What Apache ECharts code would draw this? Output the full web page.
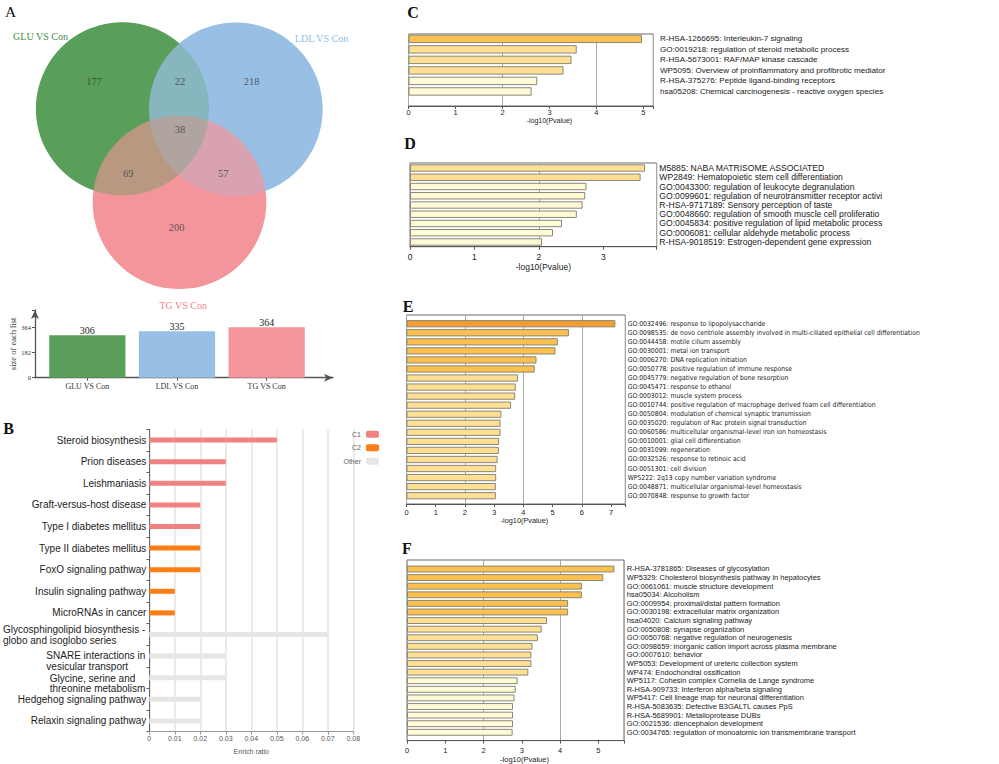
<!DOCTYPE html>
<html><head><meta charset="utf-8">
<script src="https://cdn.jsdelivr.net/npm/echarts@6/dist/echarts.min.js"></script>
<style>html,body{margin:0;padding:0;background:#fff}#c{width:999px;height:764px}</style>
</head><body><div id="c"></div>
<script>
// ================= DATA =================
const vennSets = ['GLU VS Con', 'LDL VS Con', 'TG VS Con'];
// region counts: GLU only, LDL only, TG only, GLU∩LDL, GLU∩TG, LDL∩TG, all three
const vennRegionCounts = [177, 218, 200, 22, 69, 57, 38];
const listSizes = [306, 335, 364];
const listTicks = [0, 182, 364];

const bCategories = [
  'Steroid biosynthesis', 'Prion diseases', 'Leishmaniasis', 'Graft-versus-host disease',
  'Type I diabetes mellitus', 'Type II diabetes mellitus', 'FoxO signaling pathway',
  'Insulin signaling pathway', 'MicroRNAs in cancer',
  'Glycosphingolipid biosynthesis -\nglobo and isoglobo series',
  'SNARE interactions in\nvesicular transport',
  'Glycine, serine and\nthreonine metabolism',
  'Hedgehog signaling pathway', 'Relaxin signaling pathway'
];
const bValues = [0.05, 0.03, 0.03, 0.02, 0.02, 0.02, 0.02, 0.01, 0.01, 0.07, 0.03, 0.03, 0.02, 0.02];
const bClusters = ['C1', 'C1', 'C1', 'C1', 'C1', 'C2', 'C2', 'C2', 'C2', 'Other', 'Other', 'Other', 'Other', 'Other'];
const bClusterNames = ['C1', 'C2', 'Other'];

const cTerms = [
  'R-HSA-1266695: Interleukin-7 signaling',
  'GO:0019218: regulation of steroid metabolic process',
  'R-HSA-5673001: RAF/MAP kinase cascade',
  'WP5095: Overview of proinflammatory and profibrotic mediators',
  'R-HSA-375276: Peptide ligand-binding receptors',
  'hsa05208: Chemical carcinogenesis - reactive oxygen species'
];
const cValues = [4.97, 3.58, 3.47, 3.30, 2.74, 2.62];

const dTerms = [
  'M5885: NABA MATRISOME ASSOCIATED',
  'WP2849: Hematopoietic stem cell differentiation',
  'GO:0043300: regulation of leukocyte degranulation',
  'GO:0099601: regulation of neurotransmitter receptor activity',
  'R-HSA-9717189: Sensory perception of taste',
  'GO:0048660: regulation of smooth muscle cell proliferation',
  'GO:0045834: positive regulation of lipid metabolic process',
  'GO:0006081: cellular aldehyde metabolic process',
  'R-HSA-9018519: Estrogen-dependent gene expression'
];
const dValues = [3.65, 3.58, 2.74, 2.72, 2.68, 2.59, 2.36, 2.22, 2.05];

const eTerms = [
  'GO:0032496: response to lipopolysaccharide',
  'GO:0098535: de novo centriole assembly involved in multi-ciliated epithelial cell differentiation',
  'GO:0044458: motile cilium assembly',
  'GO:0030001: metal ion transport',
  'GO:0006270: DNA replication initiation',
  'GO:0050778: positive regulation of immune response',
  'GO:0045779: negative regulation of bone resorption',
  'GO:0045471: response to ethanol',
  'GO:0003012: muscle system process',
  'GO:0010744: positive regulation of macrophage derived foam cell differentiation',
  'GO:0050804: modulation of chemical synaptic transmission',
  'GO:0035020: regulation of Rac protein signal transduction',
  'GO:0060586: multicellular organismal-level iron ion homeostasis',
  'GO:0010001: glial cell differentiation',
  'GO:0031099: regeneration',
  'GO:0032526: response to retinoic acid',
  'GO:0051301: cell division',
  'WP5222: 2q13 copy number variation syndrome',
  'GO:0048871: multicellular organismal-level homeostasis',
  'GO:0070848: response to growth factor'
];
const eValues = [7.15, 5.56, 5.18, 5.10, 4.45, 4.39, 3.82, 3.74, 3.72, 3.58, 3.25, 3.22, 3.22, 3.17, 3.16, 3.12, 3.07, 3.07, 3.06, 3.06];

const fTerms = [
  'R-HSA-3781865: Diseases of glycosylation',
  'WP5329: Cholesterol biosynthesis pathway in hepatocytes',
  'GO:0061061: muscle structure development',
  'hsa05034: Alcoholism',
  'GO:0009954: proximal/distal pattern formation',
  'GO:0030198: extracellular matrix organization',
  'hsa04020: Calcium signaling pathway',
  'GO:0050808: synapse organization',
  'GO:0050768: negative regulation of neurogenesis',
  'GO:0098659: inorganic cation import across plasma membrane',
  'GO:0007610: behavior',
  'WP5053: Development of ureteric collection system',
  'WP474: Endochondral ossification',
  'WP5117: Cohesin complex Cornelia de Lange syndrome',
  'R-HSA-909733: Interferon alpha/beta signaling',
  'WP5417: Cell lineage map for neuronal differentiation',
  'R-HSA-5083635: Defective B3GALTL causes PpS',
  'R-HSA-5689901: Metalloprotease DUBs',
  'GO:0021536: diencephalon development',
  'GO:0034765: regulation of monoatomic ion transmembrane transport'
];
const fValues = [5.42, 5.13, 4.57, 4.57, 4.21, 4.21, 3.66, 3.52, 3.42, 3.28, 3.25, 3.25, 3.17, 2.89, 2.84, 2.81, 2.77, 2.77, 2.77, 2.76];

// ================= LAYOUT / STYLE =================
const SERIF = '"Liberation Serif","Times New Roman",serif';
const SANS = '"Liberation Sans",Arial,sans-serif';
const vennColors = ['#5a9e5a', '#98bfe4', '#f4959b'];
const vennLabelColors = ['#3f8f3f', '#90bce6', '#f0868c'];
const vennGeom = [[122.5, 108.8, 86.6], [235.8, 109.3, 86.8], [179.5, 202.3, 86.8]];
const vennTint = [[0, 0.38], [1, 0.3]];
const vennLabelPos = [[94, 81.3], [251.7, 81.3], [176.7, 227.3], [180, 81.3], [128.3, 173.3], [223.3, 173.3], [180, 129]];
const vennSetLabelPos = [[40.5, 36.7], [321.5, 38.3], [183.2, 305]];
const bColors = { C1: '#f08282', C2: '#fd7e14', Other: '#e6e6e6' };
const bLabelShift = { 10: 4.5, 11: 5.5 };

function metascapeColor(v) {
  return v > 6 ? '#f69d31' : v > 4 ? '#fcc04e' : v > 3 ? '#fedf93' : '#fffbd7';
}

const mctx = document.createElement('canvas').getContext('2d');
function textW(t, size, fam) { mctx.font = size + 'px ' + fam; return mctx.measureText(t).width; }
function fitText(t, w, size, fam) {
  if (!w) return t;
  let s = t;
  while (s.length > 1 && textW(s, size, fam) > w) s = s.slice(0, -1);
  return s;
}
// narrow sans for the condensed-looking panel E labels, if installed
const probe = 'abcdefghijklmnopqrstuvwxyz ABCDEFGHIJ 0123456789';
function hasFont(name) {
  return ['monospace', 'serif'].some(fb => textW(probe, 20, '"' + name + '",' + fb) !== textW(probe, 20, fb));
}
const NARROW = ['Liberation Sans Narrow', 'Arial Narrow', 'DejaVu Sans Condensed', 'Roboto Condensed']
  .filter(hasFont).map(n => '"' + n + '",' + SANS)[0] || SANS;

const grids = [], xAxes = [], yAxes = [], series = [];
const addG = g => (grids.push(g), grids.length - 1);
const addX = a => (xAxes.push(a), xAxes.length - 1);
const addY = a => (yAxes.push(a), yAxes.length - 1);

// ---------- Panel A: Venn ----------
const gV = addG({ left: 0, top: 0, width: 400, height: 300 });
const xV = addX({ gridIndex: gV, type: 'value', min: 0, max: 400, show: false });
const yV = addY({ gridIndex: gV, type: 'value', min: 0, max: 300, inverse: true, show: false });
const circleRender = (params, api) => {
  const c = api.coord([api.value(0), api.value(1)]);
  const r = api.size([api.value(2), 0])[0];
  return { type: 'circle', shape: { cx: c[0], cy: c[1], r: r },
    style: { fill: vennColors[api.value(3)], opacity: api.value(4) } };
};
series.push({ type: 'custom', name: 'vennBase', xAxisIndex: xV, yAxisIndex: yV, z: 1,
  dimensions: ['x', 'y', 'r', 'set', 'alpha'], encode: { x: 0, y: 1 },
  data: vennSets.map((s, i) => [vennGeom[i][0], vennGeom[i][1], vennGeom[i][2], i, 1]),
  renderItem: circleRender, silent: true });
series.push({ type: 'custom', name: 'vennTint', xAxisIndex: xV, yAxisIndex: yV, z: 2,
  dimensions: ['x', 'y', 'r', 'set', 'alpha'], encode: { x: 0, y: 1 },
  data: vennTint.map(t => [vennGeom[t[0]][0], vennGeom[t[0]][1], vennGeom[t[0]][2], t[0], t[1]]),
  renderItem: circleRender, silent: true });
series.push({ type: 'scatter', name: 'vennCounts', xAxisIndex: xV, yAxisIndex: yV, z: 5,
  symbolSize: 2, itemStyle: { color: 'rgba(0,0,0,0)' }, silent: true,
  data: vennRegionCounts.map((n, i) => [vennLabelPos[i][0], vennLabelPos[i][1], n]),
  label: { show: true, position: 'inside', formatter: p => String(p.value[2]),
    fontFamily: SERIF, fontSize: 10.5, color: '#3a3a3a' } });

// ---------- Panel A: list-size bars ----------
const gA1 = addG({ left: 35, top: 310, width: 298, height: 67.7 });
const gA2 = addG({ left: 42.5, top: 310, width: 269, height: 67.7 });
const arrowLine = { show: true, symbol: ['none', 'arrow'], symbolSize: [6, 9], lineStyle: { color: '#555', width: 1.3 } };
addX({ gridIndex: gA1, type: 'value', min: 0, max: 1, axisLine: arrowLine,
  axisTick: { show: false }, axisLabel: { show: false }, splitLine: { show: false } });
addY({ gridIndex: gA1, type: 'value', min: 0, max: 489, interval: 182, axisLine: arrowLine,
  axisTick: { show: true, length: 3, lineStyle: { color: '#555' } },
  axisLabel: { fontFamily: SERIF, fontSize: 6.5, color: '#333', margin: 4,
    formatter: v => listTicks.includes(v) ? String(v) : '' },
  splitLine: { show: false },
  name: 'size of each list', nameLocation: 'middle', nameGap: 12.5,
  nameTextStyle: { fontFamily: SERIF, fontSize: 8.5, color: '#333' } });
const xA2 = addX({ gridIndex: gA2, type: 'category', data: vennSets,
  axisLine: { show: false }, axisTick: { show: true, alignWithLabel: true, length: 3, lineStyle: { color: '#555' } },
  axisLabel: { fontFamily: SERIF, fontSize: 8, color: '#333', margin: 5 } });
const yA2 = addY({ gridIndex: gA2, type: 'value', min: 0, max: 489, show: false });
series.push({ type: 'bar', name: 'listSize', xAxisIndex: xA2, yAxisIndex: yA2, barCategoryGap: '15%',
  data: listSizes.map((v, i) => ({ value: v, itemStyle: { color: vennColors[i] } })),
  label: { show: true, position: 'top', distance: 0, fontFamily: SERIF, fontSize: 10, color: '#222' } });

// ---------- Panel B ----------
const gB = addG({ left: 148.3, top: 429.3, width: 205, height: 302.4 });
const xB = addX({ gridIndex: gB, type: 'value', min: 0, max: 0.08, interval: 0.01,
  axisLine: { show: true, lineStyle: { color: '#999' } },
  axisTick: { show: true, length: 3, lineStyle: { color: '#999' } },
  axisLabel: { fontFamily: SANS, fontSize: 7, color: '#555', margin: 3,
    formatter: v => v === 0 ? '0' : v.toFixed(2) },
  splitLine: { show: true, lineStyle: { color: '#e4e4e4', width: 1.5 } },
  name: 'Enrich ratio', nameLocation: 'middle', nameGap: 16,
  nameTextStyle: { fontFamily: SANS, fontSize: 7, color: '#555' } });
const bRich = {};
bCategories.forEach((c, i) => {
  if (!c.includes('\n')) return;
  const lines = c.split('\n');
  const w = Math.max(...lines.map(l => textW(l, 10, SANS))) + 1;
  const s = bLabelShift[i] || 0;
  bRich['m' + i + 'a'] = { width: w, align: 'left', fontSize: 10, fontFamily: SANS, color: '#222',
    lineHeight: 11.5 + 2 * s, verticalAlign: 'bottom' };
  bRich['m' + i + 'b'] = { width: w, align: 'left', fontSize: 10, fontFamily: SANS, color: '#222', lineHeight: 11.5 };
});
const yB = addY({ gridIndex: gB, type: 'category', data: bCategories, inverse: true,
  axisLine: { show: true, lineStyle: { color: '#666' } },
  axisTick: { show: true, length: 3, lineStyle: { color: '#666' } },
  axisLabel: { fontFamily: SANS, fontSize: 10, color: '#222', margin: 3, lineHeight: 11.5, rich: bRich, interval: 0,
    formatter: (v, i) => {
      if (!v.includes('\n')) return v;
      const ls = v.split('\n');
      return '{m' + i + 'a|' + ls[0] + '}\n{m' + i + 'b|' + ls[1] + '}';
    } } });
bClusterNames.forEach(name => {
  series.push({ type: 'bar', name: name, xAxisIndex: xB, yAxisIndex: yB, stack: 'b', barWidth: 5,
    itemStyle: { color: bColors[name] },
    data: bValues.map((v, i) => bClusters[i] === name ? v : '-') });
});

// ---------- Panels C-F (Metascape style) ----------
const panels = [
  { terms: cTerms, values: cValues, box: [408.5, 34, 653.3, 106], bars: [33.6, 96.7], max: 5.21,
    tickFont: 7.5, tickMargin: 2, nameFont: 7, nameGap: 8, nameShift: 37,
    lblGap: 6.7, lblWidth: 228, refIdx: 5, refW: 223.3, fam: SANS },
  { terms: dTerms, values: dValues, box: [410, 163, 656.7, 246.7], bars: [163.4, 246.6], max: 3.83,
    tickFont: 8.5, tickMargin: 5.5, nameFont: 8.5, nameGap: 16, nameShift: 20,
    lblGap: 2.6, lblWidth: 224, refIdx: 6, refW: 223.3, fam: SANS },
  { terms: eTerms, values: eValues, box: [406.5, 315, 625.3, 504], bars: [319.2, 500.2], max: 7.49,
    tickFont: 7.5, tickMargin: 4.5, nameFont: 7.3, nameGap: 13, nameShift: 17,
    lblGap: 2.4, lblWidth: 0, refIdx: 1, refW: 293, fam: NARROW },
  { terms: fTerms, values: fValues, box: [407, 560, 624, 740.7], bars: [564.7, 736.6], max: 5.67,
    tickFont: 7.5, tickMargin: 5.5, nameFont: 7.5, nameGap: 13.5, nameShift: 18,
    lblGap: 2.7, lblWidth: 0, refIdx: 19, refW: 229, fam: SANS }
];
panels.forEach(p => {
  const w = p.box[2] - p.box[0];
  const gBox = addG({ left: p.box[0], top: p.box[1], width: w, height: p.box[3] - p.box[1],
    show: true, borderColor: '#6b6b6b', borderWidth: 1, backgroundColor: 'transparent' });
  const gBar = addG({ left: p.box[0], top: p.bars[0], width: w, height: p.bars[1] - p.bars[0] });
  addX({ gridIndex: gBox, type: 'value', min: 0, max: p.max, interval: 1, position: 'bottom',
    axisLine: { show: true, lineStyle: { color: '#555' } },
    axisTick: { show: true, length: 3, lineStyle: { color: '#555' } },
    axisLabel: { fontFamily: SANS, fontSize: p.tickFont, color: '#222', margin: p.tickMargin,
      formatter: v => Number.isInteger(v) ? String(v) : '' },
    splitLine: { show: false },
    name: '-log10(Pvalue)', nameLocation: 'middle', nameGap: p.nameGap,
    nameTextStyle: { fontFamily: SANS, fontSize: p.nameFont, color: '#222', padding: [0, 0, 0, p.nameShift] } });
  addX({ gridIndex: gBox, type: 'value', min: 0, max: p.max, interval: 2, position: 'top',
    axisLine: { show: false }, axisTick: { show: false }, axisLabel: { show: false },
    splitLine: { show: true, lineStyle: { color: '#a8a8a8', width: 1 } } });
  addY({ gridIndex: gBox, type: 'value', min: 0, max: 1, show: false });
  const xb = addX({ gridIndex: gBar, type: 'value', min: 0, max: p.max, show: false });
  const fs = 10 * p.refW / textW(p.terms[p.refIdx], 10, p.fam);
  const yb = addY({ gridIndex: gBar, type: 'category', data: p.terms, inverse: true, position: 'right',
    axisLine: { show: false }, axisTick: { show: false },
    axisLabel: { interval: 0, hideOverlap: false, fontFamily: p.fam, fontSize: fs, color: '#1a1a1a', margin: p.lblGap,
      formatter: v => fitText(v, p.lblWidth, fs, p.fam) } });
  series.push({ type: 'bar', name: 'enrich', xAxisIndex: xb, yAxisIndex: yb, barCategoryGap: '20%',
    data: p.values.map(v => ({ value: v, itemStyle: { color: metascapeColor(v) } })),
    itemStyle: { borderColor: '#8a8878', borderWidth: 1 } });
});

// ---------- text annotations ----------
const letters = [['A', 10.5, 11, 'normal', 15.5], ['B', 8.5, 428.5, 'bold', 16], ['C', 413, 12, 'bold', 16],
  ['D', 410, 143.5, 'bold', 16], ['E', 408, 306, 'bold', 16], ['F', 407, 548, 'bold', 16]];
const graphic = letters.map(l => ({ type: 'text', x: l[1], y: l[2],
  style: { text: l[0], font: l[3] + ' ' + l[4] + 'px ' + SERIF, fill: '#111', textAlign: 'center', textVerticalAlign: 'middle' } }));
vennSets.forEach((s, i) => graphic.push({ type: 'text', x: vennSetLabelPos[i][0], y: vennSetLabelPos[i][1], z: 10,
  style: { text: s, font: '10px ' + SERIF, fill: vennLabelColors[i], textAlign: 'center', textVerticalAlign: 'middle' } }));

const chart = echarts.init(document.getElementById('c'), null, { renderer: 'svg', width: 999, height: 764 });
chart.setOption({
  animation: false,
  backgroundColor: '#fff',
  grid: grids, xAxis: xAxes, yAxis: yAxes, series: series, graphic: graphic,
  legend: { data: bClusterNames, orient: 'vertical', right: 620, top: 430.8, padding: 0,
    itemWidth: 13, itemHeight: 7, itemGap: 6.5, align: 'right', icon: 'roundRect',
    textStyle: { fontFamily: SANS, fontSize: 7, color: '#666', lineHeight: 7 } }
});
</script>
</body></html>
